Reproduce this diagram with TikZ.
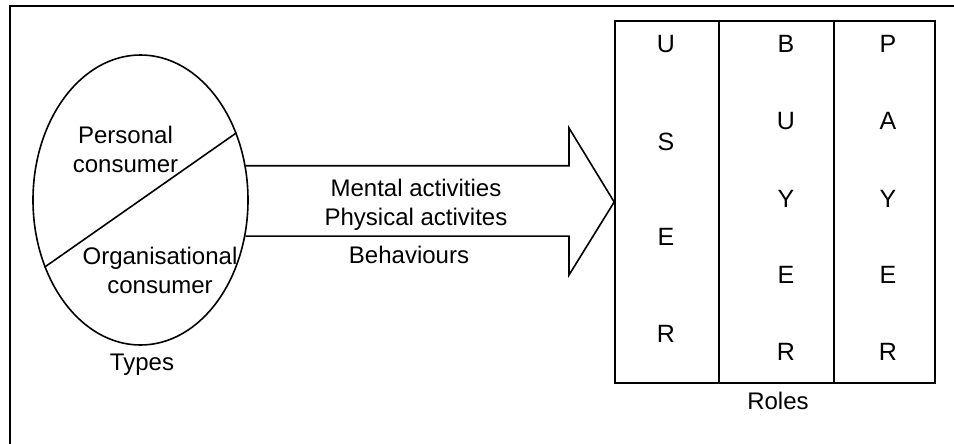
\documentclass[tikz,border=0pt]{standalone}
\usepackage{fontspec}
\setmainfont{Liberation Sans}
\usetikzlibrary{shapes.geometric}
\begin{document}
\begin{tikzpicture}[x=1pt,y=-1pt,
  stroke/.style={line width=1.6pt, line join=miter},
  lbl/.style={font=\fontsize{24}{29}\selectfont, inner sep=0pt, anchor=base, align=center},
  letter/.style={font=\fontsize{25}{29}\selectfont, inner sep=0pt, anchor=base},
  column/.style={draw, stroke, inner sep=0pt, minimum height=362pt}]
\useasboundingbox (0,0) rectangle (954,444);

% outer frame (left and top edges)
\draw[line width=2pt] (10,444) -- (10,6) -- (954,6);

% consumer types
\node[draw, stroke, ellipse, inner sep=0pt, minimum width=215pt, minimum height=290pt] (kinds) at (140.5,200) {};
\draw[stroke] (kinds.215.5) -- (kinds.35.5);
\node[lbl] (personal) at (125.5,172) {Personal\\consumer};
\node[lbl] (organisational) at (160,293) {Organisational\\consumer};
\node[lbl] (types) at (142,370) {Types};

% roles box
\node[column, minimum width=104pt] (user) at (667,202) {};
\node[column, minimum width=115pt] (buyer) at (776.5,202) {};
\node[column, minimum width=101pt] (payer) at (884.5,202) {};
\node[lbl] (roles) at (778,409) {Roles};

\foreach \ch/\y [count=\i] in {U/53,S/150,E/245,R/342}
  \node[letter] (u\i) at (666,\y) {\ch};
\foreach \ch/\y [count=\i] in {B/53,U/129,Y/207,E/283,R/360}
  \node[letter] (b\i) at (786,\y) {\ch};
\foreach \ch/\y [count=\i] in {P/53,A/129,Y/207,E/283,R/360}
  \node[letter] (p\i) at (888,\y) {\ch};

% block arrow from the types to the roles
\coordinate (headtop) at (569,128);
\coordinate (headbot) at (569,275);
\draw[stroke] (kinds.18.5) -- (kinds.18.5 -| headtop) -- (headtop)
  -- (user.west) -- (headbot) -- (kinds.-19 -| headbot) -- (kinds.-19);
\node[lbl] (activities) at (416,225) {Mental activities\\Physical activites};
\node[lbl] (behaviours) at (409,263) {Behaviours};
\end{tikzpicture}
\end{document}
